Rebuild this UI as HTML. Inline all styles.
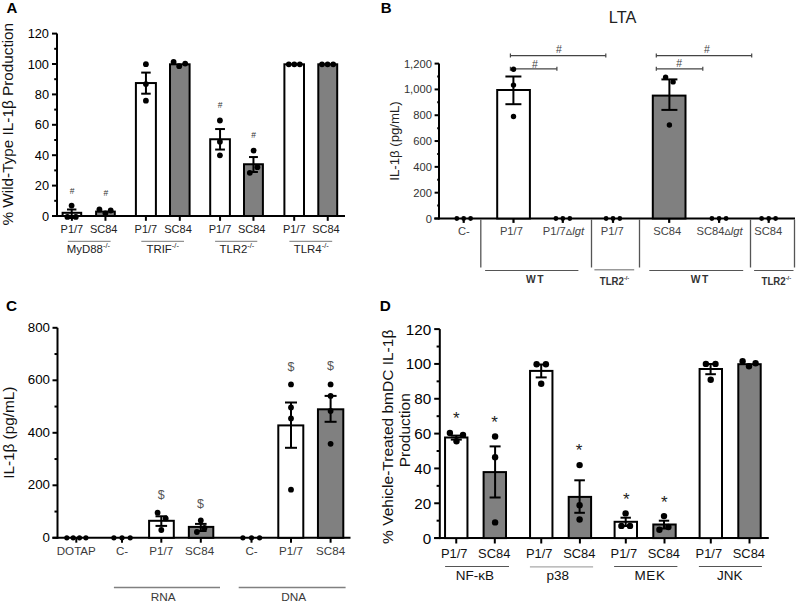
<!DOCTYPE html>
<html><head><meta charset="utf-8"><style>
html,body{margin:0;padding:0;background:#fff;}
svg{display:block;font-family:"Liberation Sans", sans-serif;}
</style></head><body>
<svg width="797" height="603" viewBox="0 0 797 603">
<rect width="797" height="603" fill="#fff"/>
<text x="6.40" y="12.90" font-size="15" text-anchor="start" fill="#000" font-weight="bold" >A</text>
<line x1="57.00" y1="33.60" x2="57.00" y2="217.00" stroke="#000" stroke-width="2"/>
<line x1="52.00" y1="216.00" x2="57.00" y2="216.00" stroke="#000" stroke-width="2"/>
<text x="49.00" y="220.58" font-size="12.8" text-anchor="end" fill="#000" font-weight="normal" >0</text>
<line x1="52.00" y1="185.60" x2="57.00" y2="185.60" stroke="#000" stroke-width="2"/>
<text x="49.00" y="190.18" font-size="12.8" text-anchor="end" fill="#000" font-weight="normal" >20</text>
<line x1="52.00" y1="155.20" x2="57.00" y2="155.20" stroke="#000" stroke-width="2"/>
<text x="49.00" y="159.78" font-size="12.8" text-anchor="end" fill="#000" font-weight="normal" >40</text>
<line x1="52.00" y1="124.80" x2="57.00" y2="124.80" stroke="#000" stroke-width="2"/>
<text x="49.00" y="129.38" font-size="12.8" text-anchor="end" fill="#000" font-weight="normal" >60</text>
<line x1="52.00" y1="94.40" x2="57.00" y2="94.40" stroke="#000" stroke-width="2"/>
<text x="49.00" y="98.98" font-size="12.8" text-anchor="end" fill="#000" font-weight="normal" >80</text>
<line x1="52.00" y1="64.00" x2="57.00" y2="64.00" stroke="#000" stroke-width="2"/>
<text x="49.00" y="68.58" font-size="12.8" text-anchor="end" fill="#000" font-weight="normal" >100</text>
<line x1="52.00" y1="33.60" x2="57.00" y2="33.60" stroke="#000" stroke-width="2"/>
<text x="49.00" y="38.18" font-size="12.8" text-anchor="end" fill="#000" font-weight="normal" >120</text>
<line x1="54.20" y1="200.80" x2="57.00" y2="200.80" stroke="#000" stroke-width="2"/>
<line x1="54.20" y1="170.40" x2="57.00" y2="170.40" stroke="#000" stroke-width="2"/>
<line x1="54.20" y1="140.00" x2="57.00" y2="140.00" stroke="#000" stroke-width="2"/>
<line x1="54.20" y1="109.60" x2="57.00" y2="109.60" stroke="#000" stroke-width="2"/>
<line x1="54.20" y1="79.20" x2="57.00" y2="79.20" stroke="#000" stroke-width="2"/>
<line x1="54.20" y1="48.80" x2="57.00" y2="48.80" stroke="#000" stroke-width="2"/>
<line x1="52.00" y1="216.00" x2="345.00" y2="216.00" stroke="#000" stroke-width="2"/>
<rect x="62.60" y="212.80" width="18.60" height="3.20" fill="#fff" stroke="#000" stroke-width="2"/>
<rect x="96.10" y="211.60" width="18.70" height="4.40" fill="#808080" stroke="#000" stroke-width="2"/>
<rect x="135.90" y="83.05" width="20.00" height="132.95" fill="#fff" stroke="#000" stroke-width="2"/>
<rect x="170.00" y="64.30" width="19.60" height="151.70" fill="#808080" stroke="#000" stroke-width="2"/>
<rect x="210.20" y="139.25" width="19.70" height="76.75" fill="#fff" stroke="#000" stroke-width="2"/>
<rect x="244.00" y="164.25" width="18.90" height="51.75" fill="#808080" stroke="#000" stroke-width="2"/>
<rect x="284.40" y="64.30" width="19.60" height="151.70" fill="#fff" stroke="#000" stroke-width="2"/>
<rect x="318.30" y="64.30" width="18.90" height="151.70" fill="#808080" stroke="#000" stroke-width="2"/>
<line x1="71.90" y1="216.00" x2="71.90" y2="220.80" stroke="#000" stroke-width="2"/>
<line x1="105.45" y1="216.00" x2="105.45" y2="220.80" stroke="#000" stroke-width="2"/>
<line x1="145.90" y1="216.00" x2="145.90" y2="220.80" stroke="#000" stroke-width="2"/>
<line x1="179.80" y1="216.00" x2="179.80" y2="220.80" stroke="#000" stroke-width="2"/>
<line x1="220.05" y1="216.00" x2="220.05" y2="220.80" stroke="#000" stroke-width="2"/>
<line x1="253.45" y1="216.00" x2="253.45" y2="220.80" stroke="#000" stroke-width="2"/>
<line x1="294.20" y1="216.00" x2="294.20" y2="220.80" stroke="#000" stroke-width="2"/>
<line x1="327.75" y1="216.00" x2="327.75" y2="220.80" stroke="#000" stroke-width="2"/>
<line x1="71.70" y1="209.50" x2="71.70" y2="218.00" stroke="#000" stroke-width="2"/>
<line x1="67.00" y1="209.50" x2="76.40" y2="209.50" stroke="#000" stroke-width="2"/>
<line x1="67.00" y1="218.00" x2="76.40" y2="218.00" stroke="#000" stroke-width="2"/>
<line x1="145.95" y1="72.60" x2="145.95" y2="93.70" stroke="#000" stroke-width="2"/>
<line x1="141.20" y1="72.60" x2="150.70" y2="72.60" stroke="#000" stroke-width="2"/>
<line x1="141.20" y1="93.70" x2="150.70" y2="93.70" stroke="#000" stroke-width="2"/>
<line x1="220.05" y1="129.05" x2="220.05" y2="149.55" stroke="#000" stroke-width="2"/>
<line x1="215.15" y1="129.05" x2="224.95" y2="129.05" stroke="#000" stroke-width="2"/>
<line x1="215.15" y1="149.55" x2="224.95" y2="149.55" stroke="#000" stroke-width="2"/>
<line x1="253.45" y1="157.05" x2="253.45" y2="172.00" stroke="#000" stroke-width="2"/>
<line x1="249.00" y1="157.05" x2="257.90" y2="157.05" stroke="#000" stroke-width="2"/>
<line x1="249.00" y1="172.00" x2="257.90" y2="172.00" stroke="#000" stroke-width="2"/>
<circle cx="71.60" cy="205.60" r="2.9" fill="#000"/>
<circle cx="67.40" cy="216.90" r="2.9" fill="#000"/>
<circle cx="75.80" cy="216.90" r="2.9" fill="#000"/>
<circle cx="99.40" cy="209.40" r="2.9" fill="#000"/>
<circle cx="105.40" cy="213.30" r="2.9" fill="#000"/>
<circle cx="110.70" cy="210.50" r="2.9" fill="#000"/>
<circle cx="145.90" cy="64.20" r="2.9" fill="#000"/>
<circle cx="145.90" cy="84.10" r="2.9" fill="#000"/>
<circle cx="145.90" cy="100.70" r="2.9" fill="#000"/>
<circle cx="173.60" cy="61.90" r="2.9" fill="#000"/>
<circle cx="179.20" cy="66.20" r="2.9" fill="#000"/>
<circle cx="185.20" cy="63.60" r="2.9" fill="#000"/>
<circle cx="219.90" cy="120.50" r="2.9" fill="#000"/>
<circle cx="219.90" cy="141.70" r="2.9" fill="#000"/>
<circle cx="219.90" cy="155.30" r="2.9" fill="#000"/>
<circle cx="257.40" cy="167.20" r="2.9" fill="#000"/>
<circle cx="249.80" cy="172.80" r="2.9" fill="#000"/>
<circle cx="253.60" cy="150.60" r="2.9" fill="#000"/>
<circle cx="288.80" cy="64.30" r="2.9" fill="#000"/>
<circle cx="294.30" cy="64.30" r="2.9" fill="#000"/>
<circle cx="299.80" cy="64.30" r="2.9" fill="#000"/>
<circle cx="322.00" cy="64.30" r="2.9" fill="#000"/>
<circle cx="327.60" cy="64.30" r="2.9" fill="#000"/>
<circle cx="333.20" cy="64.30" r="2.9" fill="#000"/>
<text x="72.20" y="193.80" font-size="8.5" text-anchor="middle" fill="#333" font-weight="normal" >#</text>
<text x="105.90" y="196.40" font-size="8.5" text-anchor="middle" fill="#333" font-weight="normal" >#</text>
<text x="220.00" y="107.80" font-size="8.5" text-anchor="middle" fill="#333" font-weight="normal" >#</text>
<text x="253.70" y="138.30" font-size="8.5" text-anchor="middle" fill="#333" font-weight="normal" >#</text>
<text x="71.90" y="232.60" font-size="11" text-anchor="middle" fill="#222" font-weight="normal" >P1/7</text>
<text x="103.65" y="232.60" font-size="11" text-anchor="middle" fill="#222" font-weight="normal" >SC84</text>
<text x="145.90" y="232.60" font-size="11" text-anchor="middle" fill="#222" font-weight="normal" >P1/7</text>
<text x="178.00" y="232.60" font-size="11" text-anchor="middle" fill="#222" font-weight="normal" >SC84</text>
<text x="220.05" y="232.60" font-size="11" text-anchor="middle" fill="#222" font-weight="normal" >P1/7</text>
<text x="251.65" y="232.60" font-size="11" text-anchor="middle" fill="#222" font-weight="normal" >SC84</text>
<text x="294.20" y="232.60" font-size="11" text-anchor="middle" fill="#222" font-weight="normal" >P1/7</text>
<text x="325.95" y="232.60" font-size="11" text-anchor="middle" fill="#222" font-weight="normal" >SC84</text>
<line x1="67.90" y1="241.30" x2="110.60" y2="241.30" stroke="#777" stroke-width="1"/>
<text x="88.45" y="252.6" font-size="11.4" text-anchor="middle" fill="#222">MyD88<tspan font-size="7.5" dy="-4.5">-/-</tspan></text>
<line x1="141.30" y1="241.30" x2="184.00" y2="241.30" stroke="#777" stroke-width="1"/>
<text x="162.70" y="252.6" font-size="11.4" text-anchor="middle" fill="#222">TRIF<tspan font-size="7.5" dy="-4.5">-/-</tspan></text>
<line x1="215.10" y1="241.30" x2="257.30" y2="241.30" stroke="#777" stroke-width="1"/>
<text x="236.90" y="252.6" font-size="11.4" text-anchor="middle" fill="#222">TLR2<tspan font-size="7.5" dy="-4.5">-/-</tspan></text>
<line x1="289.40" y1="241.30" x2="332.20" y2="241.30" stroke="#777" stroke-width="1"/>
<text x="311.30" y="252.6" font-size="11.4" text-anchor="middle" fill="#222">TLR4<tspan font-size="7.5" dy="-4.5">-/-</tspan></text>
<text transform="translate(13,124.2) rotate(-90)" font-size="15.3" text-anchor="middle" fill="#111">% Wild-Type IL-1β Production</text>
<text x="380.80" y="12.90" font-size="15" text-anchor="start" fill="#000" font-weight="bold" >B</text>
<text x="608.80" y="23.00" font-size="16.3" text-anchor="start" fill="#222" font-weight="normal" >LTA</text>
<line x1="439.00" y1="63.60" x2="439.00" y2="219.50" stroke="#000" stroke-width="2"/>
<line x1="434.60" y1="218.50" x2="439.00" y2="218.50" stroke="#000" stroke-width="2"/>
<text x="431.90" y="222.51" font-size="11.2" text-anchor="end" fill="#333" font-weight="normal" >0</text>
<line x1="434.60" y1="192.68" x2="439.00" y2="192.68" stroke="#000" stroke-width="2"/>
<text x="431.90" y="196.69" font-size="11.2" text-anchor="end" fill="#333" font-weight="normal" >200</text>
<line x1="434.60" y1="166.87" x2="439.00" y2="166.87" stroke="#000" stroke-width="2"/>
<text x="431.90" y="170.88" font-size="11.2" text-anchor="end" fill="#333" font-weight="normal" >400</text>
<line x1="434.60" y1="141.05" x2="439.00" y2="141.05" stroke="#000" stroke-width="2"/>
<text x="431.90" y="145.06" font-size="11.2" text-anchor="end" fill="#333" font-weight="normal" >600</text>
<line x1="434.60" y1="115.23" x2="439.00" y2="115.23" stroke="#000" stroke-width="2"/>
<text x="431.90" y="119.24" font-size="11.2" text-anchor="end" fill="#333" font-weight="normal" >800</text>
<line x1="434.60" y1="89.42" x2="439.00" y2="89.42" stroke="#000" stroke-width="2"/>
<text x="431.90" y="93.43" font-size="11.2" text-anchor="end" fill="#333" font-weight="normal" >1,000</text>
<line x1="434.60" y1="63.60" x2="439.00" y2="63.60" stroke="#000" stroke-width="2"/>
<text x="431.90" y="67.61" font-size="11.2" text-anchor="end" fill="#333" font-weight="normal" >1,200</text>
<line x1="437.20" y1="205.59" x2="439.00" y2="205.59" stroke="#000" stroke-width="2"/>
<line x1="437.20" y1="179.78" x2="439.00" y2="179.78" stroke="#000" stroke-width="2"/>
<line x1="437.20" y1="153.96" x2="439.00" y2="153.96" stroke="#000" stroke-width="2"/>
<line x1="437.20" y1="128.14" x2="439.00" y2="128.14" stroke="#000" stroke-width="2"/>
<line x1="437.20" y1="102.33" x2="439.00" y2="102.33" stroke="#000" stroke-width="2"/>
<line x1="437.20" y1="76.51" x2="439.00" y2="76.51" stroke="#000" stroke-width="2"/>
<line x1="434.20" y1="218.50" x2="795.00" y2="218.50" stroke="#000" stroke-width="2"/>
<line x1="510.40" y1="68.80" x2="556.90" y2="68.80" stroke="#444" stroke-width="1.2"/>
<line x1="510.40" y1="66.80" x2="510.40" y2="70.80" stroke="#444" stroke-width="1.2"/>
<line x1="556.90" y1="66.80" x2="556.90" y2="70.80" stroke="#444" stroke-width="1.2"/>
<line x1="510.40" y1="55.60" x2="605.80" y2="55.60" stroke="#444" stroke-width="1.2"/>
<line x1="510.40" y1="53.60" x2="510.40" y2="57.60" stroke="#444" stroke-width="1.2"/>
<line x1="605.80" y1="53.60" x2="605.80" y2="57.60" stroke="#444" stroke-width="1.2"/>
<line x1="656.30" y1="68.80" x2="702.80" y2="68.80" stroke="#444" stroke-width="1.2"/>
<line x1="656.30" y1="66.80" x2="656.30" y2="70.80" stroke="#444" stroke-width="1.2"/>
<line x1="702.80" y1="66.80" x2="702.80" y2="70.80" stroke="#444" stroke-width="1.2"/>
<line x1="656.30" y1="55.60" x2="751.70" y2="55.60" stroke="#444" stroke-width="1.2"/>
<line x1="656.30" y1="53.60" x2="656.30" y2="57.60" stroke="#444" stroke-width="1.2"/>
<line x1="751.70" y1="53.60" x2="751.70" y2="57.60" stroke="#444" stroke-width="1.2"/>
<rect x="497.20" y="90.00" width="32.70" height="128.50" fill="#fff" stroke="#000" stroke-width="2"/>
<rect x="652.80" y="95.60" width="32.70" height="122.90" fill="#808080" stroke="#000" stroke-width="2"/>
<line x1="463.70" y1="218.50" x2="463.70" y2="222.90" stroke="#000" stroke-width="2.2"/>
<line x1="513.50" y1="218.50" x2="513.50" y2="222.90" stroke="#000" stroke-width="2.2"/>
<line x1="562.80" y1="218.50" x2="562.80" y2="222.90" stroke="#000" stroke-width="2.2"/>
<line x1="613.00" y1="218.50" x2="613.00" y2="222.90" stroke="#000" stroke-width="2.2"/>
<line x1="669.20" y1="218.50" x2="669.20" y2="222.90" stroke="#000" stroke-width="2.2"/>
<line x1="719.10" y1="218.50" x2="719.10" y2="222.90" stroke="#000" stroke-width="2.2"/>
<line x1="768.70" y1="218.50" x2="768.70" y2="222.90" stroke="#000" stroke-width="2.2"/>
<line x1="513.40" y1="76.50" x2="513.40" y2="104.20" stroke="#000" stroke-width="2"/>
<line x1="505.40" y1="76.50" x2="521.40" y2="76.50" stroke="#000" stroke-width="2"/>
<line x1="505.40" y1="104.20" x2="521.40" y2="104.20" stroke="#000" stroke-width="2"/>
<line x1="669.40" y1="79.40" x2="669.40" y2="109.90" stroke="#000" stroke-width="2"/>
<line x1="661.40" y1="79.40" x2="677.40" y2="79.40" stroke="#000" stroke-width="2"/>
<line x1="661.40" y1="109.90" x2="677.40" y2="109.90" stroke="#000" stroke-width="2"/>
<circle cx="513.50" cy="69.20" r="2.7" fill="#000"/>
<circle cx="513.50" cy="85.10" r="2.7" fill="#000"/>
<circle cx="513.50" cy="116.50" r="2.7" fill="#000"/>
<circle cx="665.60" cy="77.30" r="2.7" fill="#000"/>
<circle cx="673.10" cy="81.90" r="2.7" fill="#000"/>
<circle cx="669.40" cy="125.00" r="2.7" fill="#000"/>
<circle cx="456.80" cy="218.50" r="2.4" fill="#000"/>
<circle cx="463.70" cy="218.50" r="2.4" fill="#000"/>
<circle cx="470.60" cy="218.50" r="2.4" fill="#000"/>
<circle cx="555.90" cy="218.50" r="2.4" fill="#000"/>
<circle cx="562.80" cy="218.50" r="2.4" fill="#000"/>
<circle cx="569.80" cy="218.50" r="2.4" fill="#000"/>
<circle cx="606.10" cy="218.50" r="2.4" fill="#000"/>
<circle cx="613.00" cy="218.50" r="2.4" fill="#000"/>
<circle cx="619.80" cy="218.50" r="2.4" fill="#000"/>
<circle cx="711.90" cy="218.50" r="2.4" fill="#000"/>
<circle cx="719.10" cy="218.50" r="2.4" fill="#000"/>
<circle cx="726.10" cy="218.50" r="2.4" fill="#000"/>
<circle cx="761.60" cy="218.50" r="2.4" fill="#000"/>
<circle cx="768.70" cy="218.50" r="2.4" fill="#000"/>
<circle cx="775.60" cy="218.50" r="2.4" fill="#000"/>
<text x="534.90" y="67.70" font-size="10.5" text-anchor="middle" fill="#444" font-weight="normal" >#</text>
<text x="558.80" y="53.40" font-size="10.5" text-anchor="middle" fill="#444" font-weight="normal" >#</text>
<text x="679.20" y="67.20" font-size="10.5" text-anchor="middle" fill="#444" font-weight="normal" >#</text>
<text x="706.90" y="53.00" font-size="10.5" text-anchor="middle" fill="#444" font-weight="normal" >#</text>
<line x1="480.80" y1="219.50" x2="480.80" y2="267.50" stroke="#555" stroke-width="1.3"/>
<line x1="591.50" y1="219.50" x2="591.50" y2="267.50" stroke="#555" stroke-width="1.3"/>
<line x1="639.50" y1="219.50" x2="639.50" y2="267.50" stroke="#555" stroke-width="1.3"/>
<line x1="750.50" y1="219.50" x2="750.50" y2="267.50" stroke="#555" stroke-width="1.3"/>
<line x1="794.50" y1="219.50" x2="794.50" y2="267.50" stroke="#555" stroke-width="1.3"/>
<line x1="485.10" y1="270.50" x2="578.40" y2="270.50" stroke="#555" stroke-width="1"/>
<line x1="649.30" y1="270.50" x2="743.20" y2="270.50" stroke="#555" stroke-width="1"/>
<line x1="594.40" y1="269.80" x2="634.20" y2="269.80" stroke="#999" stroke-width="1.5"/>
<line x1="754.10" y1="270.50" x2="793.50" y2="270.50" stroke="#555" stroke-width="1"/>
<text x="535.50" y="282.60" font-size="10.3" text-anchor="middle" fill="#333" font-weight="bold" letter-spacing="1.6">WT</text>
<text x="700.40" y="282.60" font-size="10.3" text-anchor="middle" fill="#333" font-weight="bold" letter-spacing="1.6">WT</text>
<text x="614.5" y="284.8" font-size="10.2" text-anchor="middle" fill="#333" font-weight="bold" textLength="29.5" lengthAdjust="spacingAndGlyphs">TLR2<tspan font-size="6" dy="-4.5">-/-</tspan></text>
<text x="776.3" y="284.8" font-size="10.2" text-anchor="middle" fill="#333" font-weight="bold" textLength="29.5" lengthAdjust="spacingAndGlyphs">TLR2<tspan font-size="6" dy="-4.5">-/-</tspan></text>
<text x="463.80" y="235.10" font-size="11.2" text-anchor="middle" fill="#444" font-weight="normal" >C-</text>
<text x="511.40" y="235.10" font-size="11.2" text-anchor="middle" fill="#444" font-weight="normal" >P1/7</text>
<text x="563.40" y="235.10" font-size="11.2" text-anchor="middle" fill="#444" font-weight="normal" >P1/7<tspan font-size="9.5">Δ</tspan><tspan font-style="italic">lgt</tspan></text>
<text x="612.30" y="235.10" font-size="11.2" text-anchor="middle" fill="#444" font-weight="normal" >P1/7</text>
<text x="667.30" y="235.10" font-size="11.2" text-anchor="middle" fill="#444" font-weight="normal" >SC84</text>
<text x="719.60" y="235.10" font-size="11.2" text-anchor="middle" fill="#444" font-weight="normal" >SC84<tspan font-size="9.5">Δ</tspan><tspan font-style="italic">lgt</tspan></text>
<text x="768.30" y="235.10" font-size="11.2" text-anchor="middle" fill="#444" font-weight="normal" >SC84</text>
<text transform="translate(399,141) rotate(-90)" font-size="13.2" text-anchor="middle" fill="#222">IL-1β (pg/mL)</text>
<text x="6.10" y="311.00" font-size="15.3" text-anchor="start" fill="#000" font-weight="bold" >C</text>
<line x1="57.50" y1="327.80" x2="57.50" y2="538.80" stroke="#000" stroke-width="2"/>
<line x1="52.50" y1="537.80" x2="57.50" y2="537.80" stroke="#000" stroke-width="2"/>
<text x="50.00" y="541.80" font-size="13.3" text-anchor="end" fill="#000" font-weight="normal" >0</text>
<line x1="52.50" y1="485.30" x2="57.50" y2="485.30" stroke="#000" stroke-width="2"/>
<text x="50.00" y="489.30" font-size="13.3" text-anchor="end" fill="#000" font-weight="normal" >200</text>
<line x1="52.50" y1="432.80" x2="57.50" y2="432.80" stroke="#000" stroke-width="2"/>
<text x="50.00" y="436.80" font-size="13.3" text-anchor="end" fill="#000" font-weight="normal" >400</text>
<line x1="52.50" y1="380.30" x2="57.50" y2="380.30" stroke="#000" stroke-width="2"/>
<text x="50.00" y="384.30" font-size="13.3" text-anchor="end" fill="#000" font-weight="normal" >600</text>
<line x1="52.50" y1="327.80" x2="57.50" y2="327.80" stroke="#000" stroke-width="2"/>
<text x="50.00" y="331.80" font-size="13.3" text-anchor="end" fill="#000" font-weight="normal" >800</text>
<line x1="54.50" y1="511.55" x2="57.50" y2="511.55" stroke="#000" stroke-width="2"/>
<line x1="54.50" y1="459.05" x2="57.50" y2="459.05" stroke="#000" stroke-width="2"/>
<line x1="54.50" y1="406.55" x2="57.50" y2="406.55" stroke="#000" stroke-width="2"/>
<line x1="54.50" y1="354.05" x2="57.50" y2="354.05" stroke="#000" stroke-width="2"/>
<line x1="52.40" y1="537.80" x2="350.50" y2="537.80" stroke="#000" stroke-width="2"/>
<rect x="149.10" y="520.80" width="24.70" height="17.00" fill="#fff" stroke="#000" stroke-width="2"/>
<rect x="188.85" y="526.90" width="24.45" height="10.90" fill="#808080" stroke="#000" stroke-width="2"/>
<rect x="278.30" y="425.40" width="25.00" height="112.40" fill="#fff" stroke="#000" stroke-width="2"/>
<rect x="317.95" y="409.30" width="25.35" height="128.50" fill="#808080" stroke="#000" stroke-width="2"/>
<line x1="76.30" y1="537.80" x2="76.30" y2="542.70" stroke="#000" stroke-width="2"/>
<line x1="122.00" y1="537.80" x2="122.00" y2="542.70" stroke="#000" stroke-width="2"/>
<line x1="161.30" y1="537.80" x2="161.30" y2="542.70" stroke="#000" stroke-width="2"/>
<line x1="200.80" y1="537.80" x2="200.80" y2="542.70" stroke="#000" stroke-width="2"/>
<line x1="251.50" y1="537.80" x2="251.50" y2="542.70" stroke="#000" stroke-width="2"/>
<line x1="291.00" y1="537.80" x2="291.00" y2="542.70" stroke="#000" stroke-width="2"/>
<line x1="330.60" y1="537.80" x2="330.60" y2="542.70" stroke="#000" stroke-width="2"/>
<line x1="161.30" y1="516.30" x2="161.30" y2="525.90" stroke="#000" stroke-width="2"/>
<line x1="155.50" y1="516.30" x2="167.10" y2="516.30" stroke="#000" stroke-width="2"/>
<line x1="155.50" y1="525.90" x2="167.10" y2="525.90" stroke="#000" stroke-width="2"/>
<line x1="200.80" y1="523.90" x2="200.80" y2="531.00" stroke="#000" stroke-width="2"/>
<line x1="195.00" y1="523.90" x2="206.60" y2="523.90" stroke="#000" stroke-width="2"/>
<line x1="195.00" y1="531.00" x2="206.60" y2="531.00" stroke="#000" stroke-width="2"/>
<line x1="291.00" y1="402.50" x2="291.00" y2="447.80" stroke="#000" stroke-width="2"/>
<line x1="285.00" y1="402.50" x2="297.00" y2="402.50" stroke="#000" stroke-width="2"/>
<line x1="285.00" y1="447.80" x2="297.00" y2="447.80" stroke="#000" stroke-width="2"/>
<line x1="330.60" y1="395.90" x2="330.60" y2="421.80" stroke="#000" stroke-width="2"/>
<line x1="324.60" y1="395.90" x2="336.60" y2="395.90" stroke="#000" stroke-width="2"/>
<line x1="324.60" y1="421.80" x2="336.60" y2="421.80" stroke="#000" stroke-width="2"/>
<circle cx="66.80" cy="537.80" r="2.6" fill="#000"/>
<circle cx="73.20" cy="537.80" r="2.6" fill="#000"/>
<circle cx="79.50" cy="537.80" r="2.6" fill="#000"/>
<circle cx="85.90" cy="537.80" r="2.6" fill="#000"/>
<circle cx="113.90" cy="537.80" r="2.6" fill="#000"/>
<circle cx="122.00" cy="537.80" r="2.6" fill="#000"/>
<circle cx="130.20" cy="537.80" r="2.6" fill="#000"/>
<circle cx="242.90" cy="537.80" r="2.6" fill="#000"/>
<circle cx="251.50" cy="537.80" r="2.6" fill="#000"/>
<circle cx="259.60" cy="537.80" r="2.6" fill="#000"/>
<circle cx="157.60" cy="512.70" r="2.9" fill="#000"/>
<circle cx="165.70" cy="518.40" r="2.9" fill="#000"/>
<circle cx="161.30" cy="530.00" r="2.9" fill="#000"/>
<circle cx="200.80" cy="520.40" r="2.9" fill="#000"/>
<circle cx="204.50" cy="528.00" r="2.9" fill="#000"/>
<circle cx="196.90" cy="532.00" r="2.9" fill="#000"/>
<circle cx="291.00" cy="384.40" r="2.9" fill="#000"/>
<circle cx="291.00" cy="407.50" r="2.9" fill="#000"/>
<circle cx="291.00" cy="418.40" r="2.9" fill="#000"/>
<circle cx="291.00" cy="489.70" r="2.9" fill="#000"/>
<circle cx="330.60" cy="384.40" r="2.9" fill="#000"/>
<circle cx="330.60" cy="395.90" r="2.9" fill="#000"/>
<circle cx="330.60" cy="411.00" r="2.9" fill="#000"/>
<circle cx="330.60" cy="443.80" r="2.9" fill="#000"/>
<text x="161.20" y="499.30" font-size="12.5" text-anchor="middle" fill="#555" font-weight="normal" >$</text>
<text x="200.60" y="507.80" font-size="12.5" text-anchor="middle" fill="#555" font-weight="normal" >$</text>
<text x="291.00" y="371.10" font-size="12.5" text-anchor="middle" fill="#555" font-weight="normal" >$</text>
<text x="330.60" y="370.30" font-size="12.5" text-anchor="middle" fill="#555" font-weight="normal" >$</text>
<text x="76.30" y="555.20" font-size="11.6" text-anchor="middle" fill="#3a3a3a" font-weight="normal" >DOTAP</text>
<text x="122.00" y="555.20" font-size="11.6" text-anchor="middle" fill="#3a3a3a" font-weight="normal" >C-</text>
<text x="161.30" y="555.20" font-size="11.6" text-anchor="middle" fill="#3a3a3a" font-weight="normal" >P1/7</text>
<text x="199.60" y="555.20" font-size="11.6" text-anchor="middle" fill="#3a3a3a" font-weight="normal" >SC84</text>
<text x="251.50" y="555.20" font-size="11.6" text-anchor="middle" fill="#3a3a3a" font-weight="normal" >C-</text>
<text x="291.00" y="555.20" font-size="11.6" text-anchor="middle" fill="#3a3a3a" font-weight="normal" >P1/7</text>
<text x="330.60" y="555.20" font-size="11.6" text-anchor="middle" fill="#3a3a3a" font-weight="normal" >SC84</text>
<line x1="113.90" y1="587.50" x2="220.00" y2="587.50" stroke="#808080" stroke-width="1.3"/>
<line x1="238.70" y1="587.50" x2="345.60" y2="587.50" stroke="#808080" stroke-width="1.3"/>
<text x="163.20" y="601.40" font-size="11.8" text-anchor="middle" fill="#3a3a3a" font-weight="normal" >RNA</text>
<text x="293.60" y="601.40" font-size="11.8" text-anchor="middle" fill="#3a3a3a" font-weight="normal" >DNA</text>
<text transform="translate(14,432.8) rotate(-90)" font-size="15.3" text-anchor="middle" fill="#111">IL-1β (pg/mL)</text>
<text x="379.80" y="311.00" font-size="15.3" text-anchor="start" fill="#000" font-weight="bold" >D</text>
<line x1="439.80" y1="329.10" x2="439.80" y2="539.10" stroke="#000" stroke-width="2"/>
<line x1="434.20" y1="538.10" x2="439.80" y2="538.10" stroke="#000" stroke-width="2"/>
<text x="431.20" y="543.54" font-size="15.2" text-anchor="end" fill="#000" font-weight="normal" >0</text>
<line x1="434.20" y1="503.27" x2="439.80" y2="503.27" stroke="#000" stroke-width="2"/>
<text x="431.20" y="508.71" font-size="15.2" text-anchor="end" fill="#000" font-weight="normal" >20</text>
<line x1="434.20" y1="468.43" x2="439.80" y2="468.43" stroke="#000" stroke-width="2"/>
<text x="431.20" y="473.87" font-size="15.2" text-anchor="end" fill="#000" font-weight="normal" >40</text>
<line x1="434.20" y1="433.60" x2="439.80" y2="433.60" stroke="#000" stroke-width="2"/>
<text x="431.20" y="439.04" font-size="15.2" text-anchor="end" fill="#000" font-weight="normal" >60</text>
<line x1="434.20" y1="398.77" x2="439.80" y2="398.77" stroke="#000" stroke-width="2"/>
<text x="431.20" y="404.21" font-size="15.2" text-anchor="end" fill="#000" font-weight="normal" >80</text>
<line x1="434.20" y1="363.93" x2="439.80" y2="363.93" stroke="#000" stroke-width="2"/>
<text x="431.20" y="369.37" font-size="15.2" text-anchor="end" fill="#000" font-weight="normal" >100</text>
<line x1="434.20" y1="329.10" x2="439.80" y2="329.10" stroke="#000" stroke-width="2"/>
<text x="431.20" y="334.54" font-size="15.2" text-anchor="end" fill="#000" font-weight="normal" >120</text>
<line x1="436.60" y1="520.68" x2="439.80" y2="520.68" stroke="#000" stroke-width="2"/>
<line x1="436.60" y1="485.85" x2="439.80" y2="485.85" stroke="#000" stroke-width="2"/>
<line x1="436.60" y1="451.02" x2="439.80" y2="451.02" stroke="#000" stroke-width="2"/>
<line x1="436.60" y1="416.18" x2="439.80" y2="416.18" stroke="#000" stroke-width="2"/>
<line x1="436.60" y1="381.35" x2="439.80" y2="381.35" stroke="#000" stroke-width="2"/>
<line x1="436.60" y1="346.52" x2="439.80" y2="346.52" stroke="#000" stroke-width="2"/>
<line x1="434.20" y1="538.10" x2="768.80" y2="538.10" stroke="#000" stroke-width="2"/>
<rect x="445.05" y="437.50" width="22.40" height="100.60" fill="#fff" stroke="#000" stroke-width="2"/>
<rect x="483.60" y="472.10" width="22.40" height="66.00" fill="#808080" stroke="#000" stroke-width="2"/>
<rect x="530.05" y="370.90" width="22.40" height="167.20" fill="#fff" stroke="#000" stroke-width="2"/>
<rect x="568.70" y="496.90" width="22.40" height="41.20" fill="#808080" stroke="#000" stroke-width="2"/>
<rect x="614.60" y="521.80" width="22.40" height="16.30" fill="#fff" stroke="#000" stroke-width="2"/>
<rect x="653.30" y="524.50" width="22.40" height="13.60" fill="#808080" stroke="#000" stroke-width="2"/>
<rect x="699.60" y="369.00" width="22.40" height="169.10" fill="#fff" stroke="#000" stroke-width="2"/>
<rect x="738.30" y="364.20" width="22.40" height="173.90" fill="#808080" stroke="#000" stroke-width="2"/>
<line x1="456.25" y1="538.10" x2="456.25" y2="543.50" stroke="#000" stroke-width="2"/>
<line x1="494.80" y1="538.10" x2="494.80" y2="543.50" stroke="#000" stroke-width="2"/>
<line x1="541.25" y1="538.10" x2="541.25" y2="543.50" stroke="#000" stroke-width="2"/>
<line x1="579.90" y1="538.10" x2="579.90" y2="543.50" stroke="#000" stroke-width="2"/>
<line x1="625.80" y1="538.10" x2="625.80" y2="543.50" stroke="#000" stroke-width="2"/>
<line x1="664.50" y1="538.10" x2="664.50" y2="543.50" stroke="#000" stroke-width="2"/>
<line x1="710.80" y1="538.10" x2="710.80" y2="543.50" stroke="#000" stroke-width="2"/>
<line x1="749.50" y1="538.10" x2="749.50" y2="543.50" stroke="#000" stroke-width="2"/>
<line x1="456.30" y1="435.60" x2="456.30" y2="439.60" stroke="#000" stroke-width="2"/>
<line x1="450.80" y1="435.60" x2="461.80" y2="435.60" stroke="#000" stroke-width="2"/>
<line x1="450.80" y1="439.60" x2="461.80" y2="439.60" stroke="#000" stroke-width="2"/>
<line x1="495.10" y1="446.40" x2="495.10" y2="497.50" stroke="#000" stroke-width="2"/>
<line x1="489.60" y1="446.40" x2="500.60" y2="446.40" stroke="#000" stroke-width="2"/>
<line x1="489.60" y1="497.50" x2="500.60" y2="497.50" stroke="#000" stroke-width="2"/>
<line x1="541.20" y1="364.50" x2="541.20" y2="377.40" stroke="#000" stroke-width="2"/>
<line x1="535.70" y1="364.50" x2="546.70" y2="364.50" stroke="#000" stroke-width="2"/>
<line x1="535.70" y1="377.40" x2="546.70" y2="377.40" stroke="#000" stroke-width="2"/>
<line x1="579.60" y1="480.30" x2="579.60" y2="512.80" stroke="#000" stroke-width="2"/>
<line x1="574.30" y1="480.30" x2="584.90" y2="480.30" stroke="#000" stroke-width="2"/>
<line x1="574.30" y1="512.80" x2="584.90" y2="512.80" stroke="#000" stroke-width="2"/>
<line x1="625.70" y1="517.70" x2="625.70" y2="526.00" stroke="#000" stroke-width="2"/>
<line x1="620.50" y1="517.70" x2="630.90" y2="517.70" stroke="#000" stroke-width="2"/>
<line x1="620.50" y1="526.00" x2="630.90" y2="526.00" stroke="#000" stroke-width="2"/>
<line x1="664.00" y1="520.70" x2="664.00" y2="528.50" stroke="#000" stroke-width="2"/>
<line x1="658.80" y1="520.70" x2="669.20" y2="520.70" stroke="#000" stroke-width="2"/>
<line x1="658.80" y1="528.50" x2="669.20" y2="528.50" stroke="#000" stroke-width="2"/>
<line x1="710.60" y1="364.00" x2="710.60" y2="374.20" stroke="#000" stroke-width="2"/>
<line x1="705.30" y1="364.00" x2="715.90" y2="364.00" stroke="#000" stroke-width="2"/>
<line x1="705.30" y1="374.20" x2="715.90" y2="374.20" stroke="#000" stroke-width="2"/>
<circle cx="449.90" cy="433.00" r="3.2" fill="#000"/>
<circle cx="456.50" cy="441.30" r="3.2" fill="#000"/>
<circle cx="463.00" cy="434.90" r="3.2" fill="#000"/>
<circle cx="495.10" cy="436.50" r="3.2" fill="#000"/>
<circle cx="495.10" cy="457.30" r="3.2" fill="#000"/>
<circle cx="495.10" cy="522.40" r="3.2" fill="#000"/>
<circle cx="536.60" cy="364.30" r="3.2" fill="#000"/>
<circle cx="545.90" cy="364.30" r="3.2" fill="#000"/>
<circle cx="541.20" cy="383.70" r="3.2" fill="#000"/>
<circle cx="579.60" cy="465.10" r="3.2" fill="#000"/>
<circle cx="579.60" cy="505.30" r="3.2" fill="#000"/>
<circle cx="579.60" cy="519.50" r="3.2" fill="#000"/>
<circle cx="625.60" cy="513.40" r="3.2" fill="#000"/>
<circle cx="621.40" cy="525.90" r="3.2" fill="#000"/>
<circle cx="630.00" cy="525.90" r="3.2" fill="#000"/>
<circle cx="664.00" cy="516.10" r="3.2" fill="#000"/>
<circle cx="659.40" cy="529.70" r="3.2" fill="#000"/>
<circle cx="668.40" cy="527.00" r="3.2" fill="#000"/>
<circle cx="705.90" cy="363.90" r="3.2" fill="#000"/>
<circle cx="715.50" cy="363.90" r="3.2" fill="#000"/>
<circle cx="710.70" cy="379.80" r="3.2" fill="#000"/>
<circle cx="742.60" cy="361.20" r="3.2" fill="#000"/>
<circle cx="749.00" cy="366.30" r="3.2" fill="#000"/>
<circle cx="755.60" cy="363.20" r="3.2" fill="#000"/>
<text x="456.20" y="424.00" font-size="17" text-anchor="middle" fill="#222" font-weight="normal" >*</text>
<text x="494.60" y="428.40" font-size="17" text-anchor="middle" fill="#222" font-weight="normal" >*</text>
<text x="579.10" y="455.70" font-size="17" text-anchor="middle" fill="#222" font-weight="normal" >*</text>
<text x="626.30" y="505.00" font-size="17" text-anchor="middle" fill="#222" font-weight="normal" >*</text>
<text x="664.20" y="508.10" font-size="17" text-anchor="middle" fill="#222" font-weight="normal" >*</text>
<text x="454.25" y="557.60" font-size="12.9" text-anchor="middle" fill="#111" font-weight="normal" >P1/7</text>
<text x="494.20" y="557.60" font-size="12.9" text-anchor="middle" fill="#111" font-weight="normal" >SC84</text>
<text x="539.25" y="557.60" font-size="12.9" text-anchor="middle" fill="#111" font-weight="normal" >P1/7</text>
<text x="579.30" y="557.60" font-size="12.9" text-anchor="middle" fill="#111" font-weight="normal" >SC84</text>
<text x="623.80" y="557.60" font-size="12.9" text-anchor="middle" fill="#111" font-weight="normal" >P1/7</text>
<text x="663.90" y="557.60" font-size="12.9" text-anchor="middle" fill="#111" font-weight="normal" >SC84</text>
<text x="708.80" y="557.60" font-size="12.9" text-anchor="middle" fill="#111" font-weight="normal" >P1/7</text>
<text x="748.90" y="557.60" font-size="12.9" text-anchor="middle" fill="#111" font-weight="normal" >SC84</text>
<line x1="445.10" y1="566.50" x2="509.00" y2="566.50" stroke="#555" stroke-width="1"/>
<line x1="529.90" y1="566.80" x2="593.10" y2="566.80" stroke="#a8a8a8" stroke-width="1.2"/>
<line x1="614.10" y1="566.50" x2="677.40" y2="566.50" stroke="#555" stroke-width="1"/>
<line x1="698.90" y1="566.50" x2="761.90" y2="566.50" stroke="#555" stroke-width="1"/>
<text x="474.80" y="580.20" font-size="13.5" text-anchor="middle" fill="#111" font-weight="normal" >NF-κB</text>
<text x="557.70" y="580.20" font-size="13.5" text-anchor="middle" fill="#111" font-weight="normal" >p38</text>
<text x="650.00" y="580.00" font-size="13.5" text-anchor="middle" fill="#111" font-weight="normal" letter-spacing="0.6">MEK</text>
<text x="729.80" y="580.00" font-size="13.5" text-anchor="middle" fill="#111" font-weight="normal" >JNK</text>
<text transform="translate(392.5,436.8) rotate(-90)" font-size="15.5" text-anchor="middle" fill="#111">% Vehicle-Treated bmDC IL-1β</text>
<text transform="translate(410.2,430.3) rotate(-90)" font-size="15.5" text-anchor="middle" fill="#111">Production</text>
</svg>
</body></html>
